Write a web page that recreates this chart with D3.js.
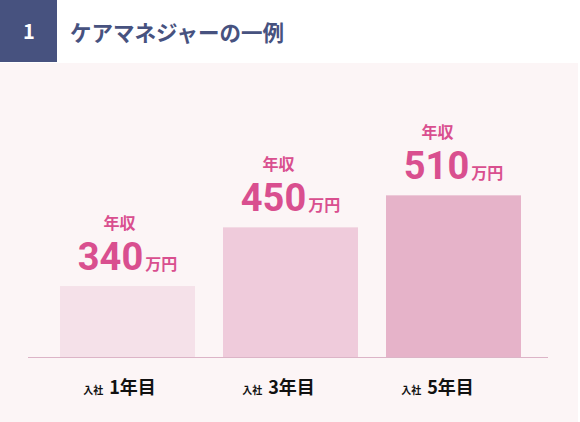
<!DOCTYPE html>
<html>
<head>
<meta charset="utf-8">
<script src="https://cdn.jsdelivr.net/npm/d3@7"></script>
<style>
  body { margin: 0; background: #fff; }
  text { font-family: "Noto Sans CJK JP", "Noto Sans", sans-serif; font-weight: 700; }
  .num { font-family: Roboto, "Noto Sans", sans-serif; }
</style>
</head>
<body>
<svg id="chart" width="580" height="422"></svg>
<script>
// data
const sectionNo = "1";
const title = "ケアマネジャーの一例";
const categories = ["1年目", "3年目", "5年目"];
const catPrefix = "入社";
const salaries = [340, 450, 510];
const valueLabel = "年収";
const unitLabel = "万円";
const barColors = ["#f5e1e9", "#efcbdb", "#e6b3c9"];

const width = 580;
const height = 422;
const baseline = 357;

const svg = d3.select("#chart");

// header
svg.append("rect")
  .attr("x", 0).attr("y", 0)
  .attr("width", 57).attr("height", 62)
  .attr("fill", "#47527f");

svg.append("text")
  .attr("x", 29).attr("y", 39)
  .attr("text-anchor", "middle")
  .attr("font-size", 20)
  .attr("fill", "#fff")
  .text(sectionNo);

svg.append("text")
  .attr("x", 70).attr("y", 41)
  .attr("font-size", 21.5)
  .attr("fill", "#47527f")
  .text(title);

// panel background
svg.append("rect")
  .attr("x", 0).attr("y", 63)
  .attr("width", 578).attr("height", height - 63)
  .attr("fill", "#fcf5f6");

// scales
const xScale = d3.scaleBand()
  .domain(categories)
  .range([60, 521])
  .paddingInner(28 / 163)
  .paddingOuter(0);

const labelScale = d3.scaleBand()
  .domain(categories)
  .range([40, 517]);

const yScale = d3.scaleLinear()
  .domain([207, 520])
  .range([baseline, 190]);

const g = svg.append("g");

// bars
g.selectAll("rect.bar")
  .data(salaries)
  .join("rect")
  .attr("class", "bar")
  .attr("x", (d, i) => xScale(categories[i]))
  .attr("y", d => yScale(d))
  .attr("width", xScale.bandwidth())
  .attr("height", d => baseline - yScale(d))
  .attr("fill", (d, i) => barColors[i]);

// baseline
svg.append("line")
  .attr("x1", 28).attr("x2", 548)
  .attr("y1", baseline + 0.5).attr("y2", baseline + 0.5)
  .attr("stroke", "#dcb4c7")
  .attr("stroke-width", 1);

// caption above each value
g.selectAll("text.cap")
  .data(salaries)
  .join("text")
  .attr("class", "cap")
  .attr("x", (d, i) => labelScale(categories[i]) + labelScale.bandwidth() / 2)
  .attr("y", d => yScale(d) - 57)
  .attr("text-anchor", "middle")
  .attr("font-size", 16)
  .attr("fill", "#d94f8f")
  .text(valueLabel);

// value + unit
const vals = g.selectAll("text.val")
  .data(salaries)
  .join("text")
  .attr("class", "val")
  .attr("x", (d, i) => xScale(categories[i]) + xScale.bandwidth() / 2)
  .attr("y", d => yScale(d) - 16)
  .attr("text-anchor", "middle")
  .attr("fill", "#d94f8f");

vals.append("tspan")
  .attr("class", "num")
  .attr("font-size", 38)
  .text(d => d);

vals.append("tspan")
  .attr("font-size", 16)
  .attr("dx", 2)
  .text(unitLabel);

// category labels
const cats = g.selectAll("text.cat")
  .data(categories)
  .join("text")
  .attr("class", "cat")
  .attr("x", d => labelScale(d) + labelScale.bandwidth() / 2)
  .attr("y", 394)
  .attr("text-anchor", "middle")
  .attr("fill", "#111");

cats.append("tspan")
  .attr("font-size", 10)
  .text(catPrefix);

cats.append("tspan")
  .attr("font-size", 18)
  .attr("dx", 6)
  .text(d => d);
</script>
</body>
</html>
